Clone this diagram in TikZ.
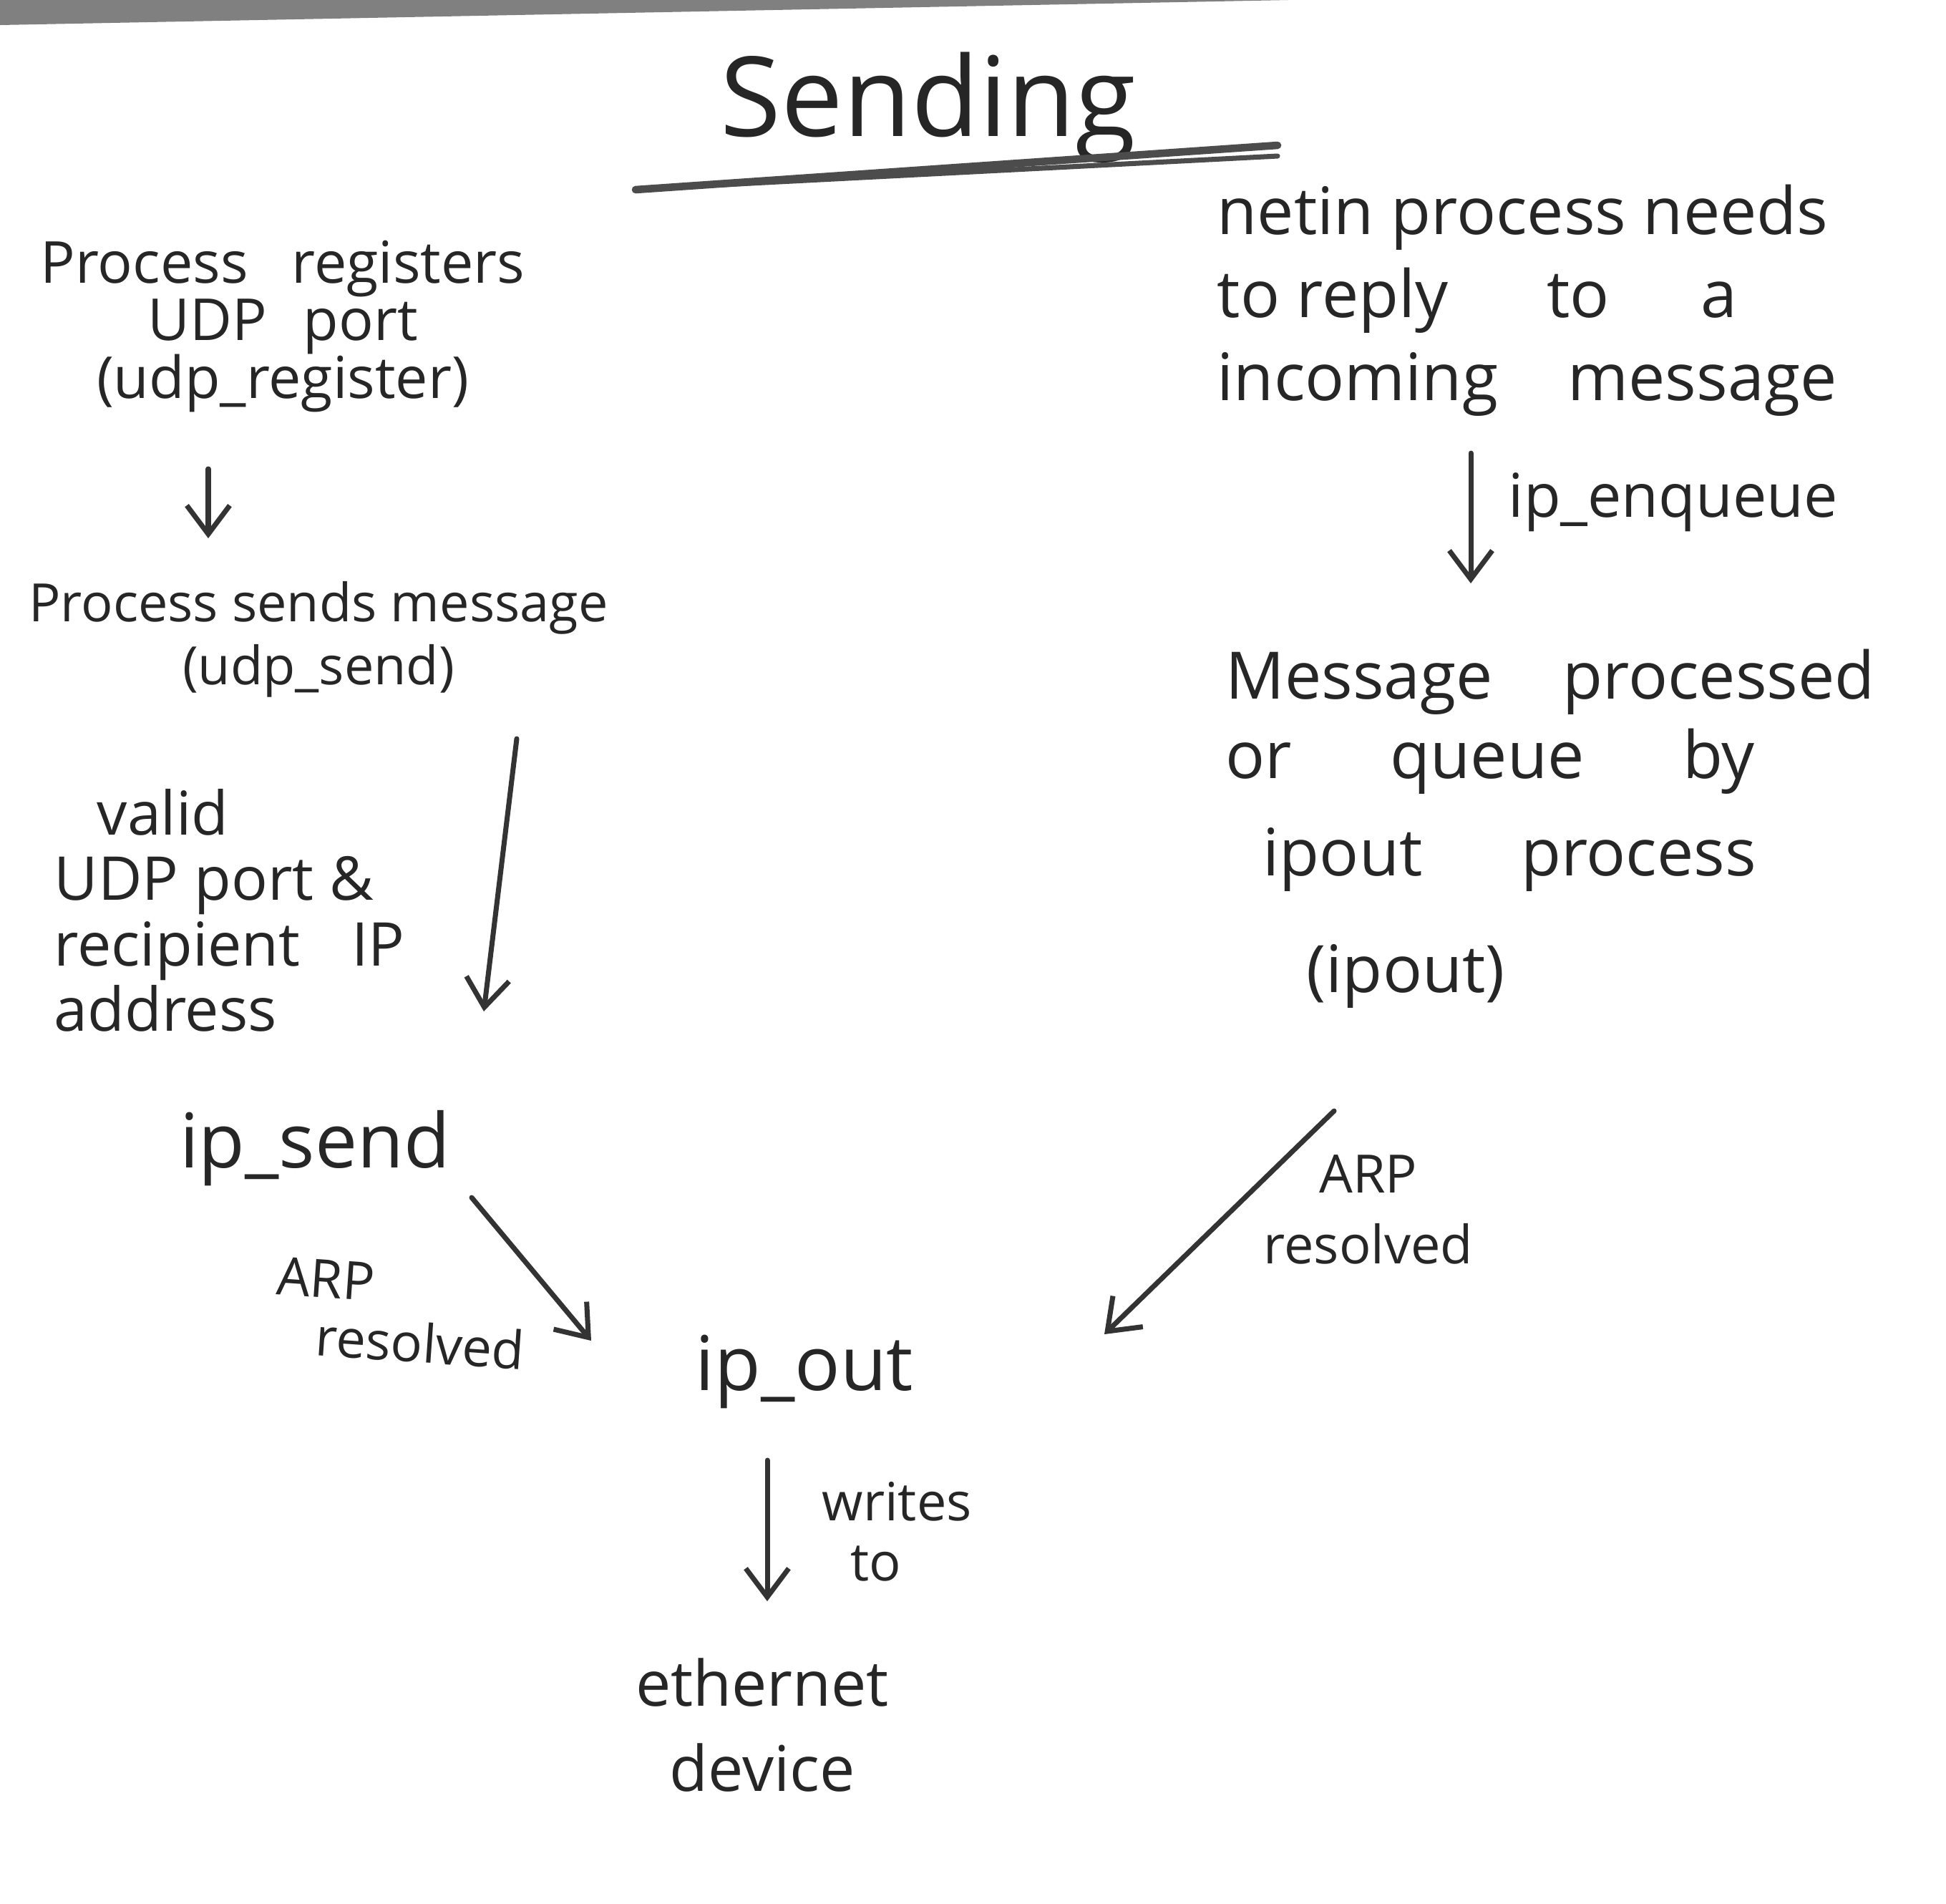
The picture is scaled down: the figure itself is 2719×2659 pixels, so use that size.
\documentclass[tikz,border=0pt]{standalone}
\usepackage{fontspec}
\setmainfont{Open Sans}
\usetikzlibrary{arrows.meta}
\begin{document}
\begin{tikzpicture}[x=0.01cm,y=-0.01cm,
  txt/.style={text=black!85, inner sep=0pt},
  flow/.style={draw=black!80, line width=2pt, line cap=round,
    -{Straight Barb[length=0.4cm,width=0.6cm,line width=2pt]}},
  uline/.style={draw=black!70, line width=3pt, line cap=round}]
\useasboundingbox (0,0) rectangle (2719,2659);
\fill[white] (0,0) rectangle (2719,2659);
\fill[black!50] (0,0) -- (1800,0) -- (0,35) -- cycle;

% title
\node[txt, font=\fontsize{44}{50}\selectfont] (title) at (1297,150) {Sending};
\coordinate (u1a) at (888,265); \coordinate (u1b) at (1785,203);
\coordinate (u2a) at (1010,258); \coordinate (u2b) at (1785,218);
\draw[uline] (u1a) -- (u1b);
\draw[uline, line width=2pt] (u2a) -- (u2b);

% left column
\node[txt, align=center, font=\fontsize{23}{23}\selectfont] (reg) at (395,456)
  {Process\hspace{0.4cm} registers\\UDP\hspace{0.3cm} port\\(udp\_register)};
\coordinate (a1s) at (291,655); \coordinate (a1e) at (291,752);
\draw[flow] (a1s) -- (a1e);

\node[txt, align=center, font=\fontsize{21}{25}\selectfont] (send) at (445,893)
  {Process sends message\\(udp\_send)};
\coordinate (a2s) at (722,1032); \coordinate (a2e) at (676,1413);
\draw[flow] (a2s) -- (a2e);

\node[txt, align=left, anchor=west, font=\fontsize{24}{26}\selectfont] (valid) at (75,1272)
  {\hspace*{0.6cm}valid\\UDP port \&\\recipient\hspace{0.5cm} IP\\address};

\node[txt, font=\fontsize{30}{32}\selectfont] (ipsend) at (440,1604) {ip\_send};
\coordinate (a3s) at (659,1673); \coordinate (a3e) at (826,1873);
\draw[flow] (a3s) -- (a3e);
\node[txt, align=left, rotate=-4, font=\fontsize{21}{23}\selectfont] (arpl) at (560,1835)
  {ARP\\\hspace*{0.6cm}resolved};

% bottom
\node[txt, font=\fontsize{30}{34}\selectfont] (ipout) at (1124,1916) {ip\_out};
\coordinate (a4s) at (1072,2040); \coordinate (a4e) at (1072,2237);
\draw[flow] (a4s) -- (a4e);
\node[txt, align=left, anchor=west, font=\fontsize{21}{24}\selectfont] (writes) at (1148,2140)
  {writes\\\hspace*{0.4cm}to};
\node[txt, align=center, font=\fontsize{25}{34}\selectfont] (eth) at (1065,2410)
  {ethernet\\device};

% right column
\node[txt, align=left, anchor=west, font=\fontsize{26}{33}\selectfont] (netin) at (1700,420)
  {netin process needs\\to reply \hspace{0.9cm} to \hspace{0.8cm} a\\incoming \hspace{0.5cm} message};
\coordinate (a5s) at (2055,633); \coordinate (a5e) at (2055,815);
\draw[flow] (a5s) -- (a5e);
\node[txt, anchor=west, font=\fontsize{24}{26}\selectfont] (enq) at (2107,702) {ip\_enqueue};

\node[txt, align=left, anchor=west, font=\fontsize{26}{31.5}\selectfont] (msg) at (1712,1158)
  {Message \hspace{0.5cm} processed\\or \hspace{0.9cm} queue \hspace{0.9cm} by\\[7pt]\hspace*{0.52cm}ipout \hspace{0.9cm} process\\[15pt]\hspace*{1.13cm}(ipout)};
\coordinate (a6s) at (1864,1552); \coordinate (a6e) at (1543,1864);
\draw[flow] (a6s) -- (a6e);
\node[txt, align=center, font=\fontsize{21}{28}\selectfont] (arpr) at (1912,1690)
  {ARP\\resolved};
\end{tikzpicture}
\end{document}
